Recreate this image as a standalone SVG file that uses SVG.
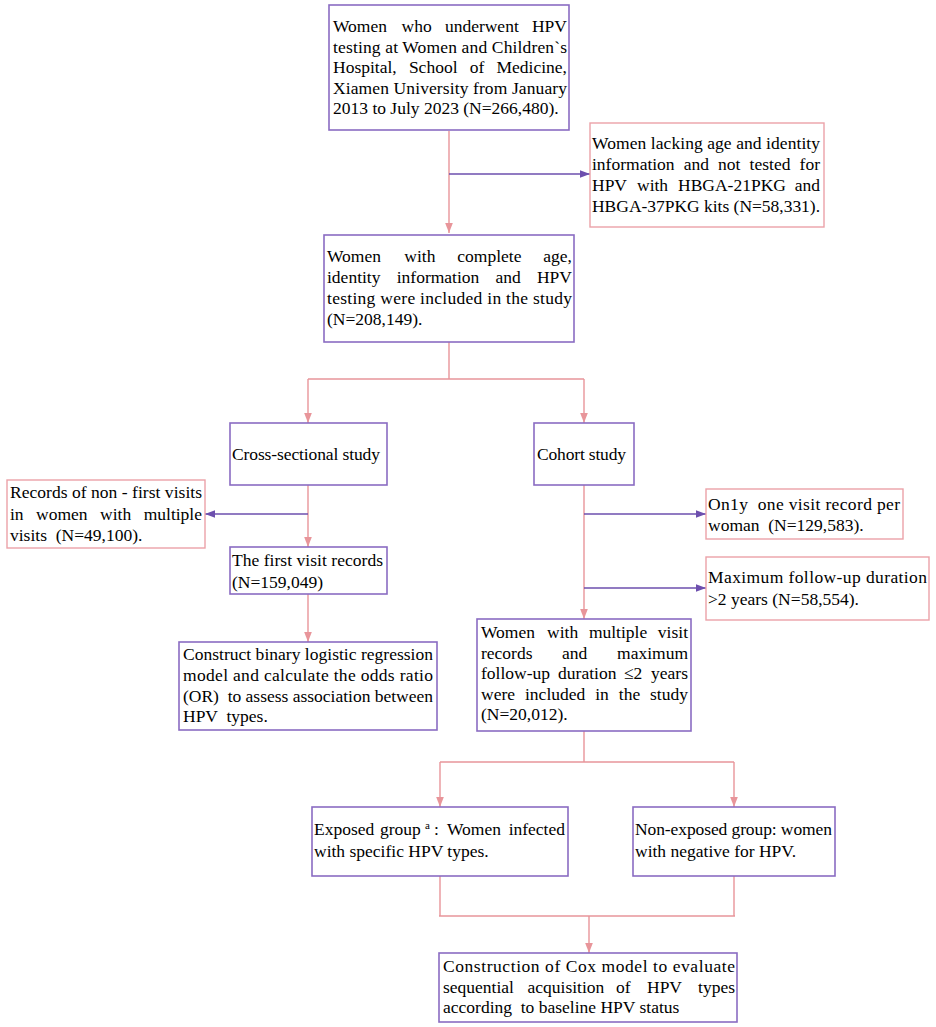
<svg xmlns="http://www.w3.org/2000/svg" width="936" height="1027" viewBox="0 0 936 1027">
<style>
.t{font-family:"Liberation Serif","Times New Roman",serif;font-size:17.5px;fill:#000}
.e{text-anchor:end}
.bp{fill:#fff;stroke:#8a6cc2;stroke-width:1.6}
.bk{fill:#fff;stroke:#eba2a8;stroke-width:1.4}
.cp{fill:none;stroke:#e8959a;stroke-width:1.4}
.cv{fill:none;stroke:#6d4fae;stroke-width:1.4}
</style>
<defs>
<marker id="ap" markerUnits="userSpaceOnUse" markerWidth="10" markerHeight="10" viewBox="0 0 10 10" refX="10" refY="5" orient="auto"><path d="M0,1.2 L10,5 L0,8.8 Z" fill="#e8959a"/></marker>
<marker id="av" markerUnits="userSpaceOnUse" markerWidth="10" markerHeight="10" viewBox="0 0 10 10" refX="10" refY="5" orient="auto"><path d="M0,1.2 L10,5 L0,8.8 Z" fill="#6d4fae"/></marker>
</defs>
<rect width="936" height="1027" fill="#fff"/>
<g id="connectors">
<path class="cp" d="M449,131 V233" marker-end="url(#ap)"/>
<path class="cv" d="M449,174 H590" marker-end="url(#av)"/>
<path class="cp" d="M449,342 V379 M308,379 H584"/>
<path class="cp" d="M308,379 V423" marker-end="url(#ap)"/>
<path class="cp" d="M584,379 V423" marker-end="url(#ap)"/>
<path class="cp" d="M308,485 V547" marker-end="url(#ap)"/>
<path class="cv" d="M308,514 H205" marker-end="url(#av)"/>
<path class="cp" d="M308,594 V642" marker-end="url(#ap)"/>
<path class="cp" d="M584,485 V619" marker-end="url(#ap)"/>
<path class="cv" d="M584,514 H706" marker-end="url(#av)"/>
<path class="cv" d="M584,588 H706" marker-end="url(#av)"/>
<path class="cp" d="M584,731 V762 M440,762 H734"/>
<path class="cp" d="M440,762 V807" marker-end="url(#ap)"/>
<path class="cp" d="M734,762 V807" marker-end="url(#ap)"/>
<path class="cp" d="M440,876 V916 M734,876 V916 M439,916 H735"/>
<path class="cp" d="M589,916 V953" marker-end="url(#ap)"/>
</g>
<g id="n1">
<rect class="bp" x="329" y="5" width="240" height="125"/>
<text class="t" y="32"><tspan x="333">Women</tspan><tspan x="401.6">who</tspan><tspan x="444.9">underwent</tspan></text>
<text class="t e" x="567" y="32">HPV</text>
<text class="t" x="333" y="52.5" textLength="234" lengthAdjust="spacing">testing at Women and Children`s</text>
<text class="t" y="73"><tspan x="333">Hospital,</tspan><tspan x="408.9">School</tspan><tspan x="469.7">of</tspan></text>
<text class="t e" x="567" y="73">Medicine,</text>
<text class="t" x="333" y="93.5" textLength="234" lengthAdjust="spacing">Xiamen University from January</text>
<text class="t" x="333" y="114">2013 to July 2023 (N=266,480).</text>
</g>
<g id="n2">
<rect class="bk" x="590" y="123" width="234" height="104"/>
<text class="t" x="592" y="149" textLength="228" lengthAdjust="spacing">Women lacking age and identity</text>
<text class="t" y="170"><tspan x="592">information</tspan><tspan x="683.7">and</tspan><tspan x="718.1">not</tspan><tspan x="749.6">tested</tspan></text>
<text class="t e" x="820" y="170">for</text>
<text class="t" y="191"><tspan x="592">HPV</tspan><tspan x="637">with</tspan><tspan x="678">HBGA-21PKG</tspan></text>
<text class="t e" x="820" y="191">and</text>
<text class="t" x="592" y="212" textLength="228" lengthAdjust="spacing">HBGA-37PKG kits (N=58,331).</text>
</g>
<g id="n3">
<rect class="bp" x="324" y="235" width="250" height="107"/>
<text class="t" y="262"><tspan x="327">Women</tspan><tspan x="404.3">with</tspan><tspan x="457.3">complete</tspan></text>
<text class="t e" x="572" y="262">age,</text>
<text class="t" y="283"><tspan x="327">identity</tspan><tspan x="396.7">information</tspan><tspan x="495.5">and</tspan></text>
<text class="t e" x="572" y="283">HPV</text>
<text class="t" x="327" y="304" textLength="245" lengthAdjust="spacing">testing were included in the study</text>
<text class="t" x="327" y="325">(N=208,149).</text>
</g>
<g id="n4">
<rect class="bp" x="230" y="423" width="157" height="62"/>
<text class="t" x="232" y="460" textLength="148" lengthAdjust="spacing">Cross-sectional study</text>
</g>
<g id="n5">
<rect class="bp" x="534" y="423" width="100" height="62"/>
<text class="t" x="537" y="460" textLength="89" lengthAdjust="spacing">Cohort study</text>
</g>
<g id="n6">
<rect class="bk" x="7" y="480" width="198" height="68"/>
<text class="t" x="10" y="498" textLength="192" lengthAdjust="spacing">Records of non - first visits</text>
<text class="t" y="520"><tspan x="10">in</tspan><tspan x="36.1">women</tspan><tspan x="100.1">with</tspan></text>
<text class="t e" x="202" y="520">multiple</text>
<text class="t" x="10" y="541" xml:space="preserve">visits  (N=49,100).</text>
</g>
<g id="n7">
<rect class="bp" x="230" y="547" width="157" height="47"/>
<text class="t" x="232" y="566" textLength="151" lengthAdjust="spacing">The first visit records</text>
<text class="t" x="232" y="588">(N=159,049)</text>
</g>
<g id="n8">
<rect class="bp" x="179" y="642" width="258" height="88"/>
<text class="t" x="183" y="660" textLength="250" lengthAdjust="spacing">Construct binary logistic regression</text>
<text class="t" x="183" y="681" textLength="250" lengthAdjust="spacing">model and calculate the odds ratio</text>
<text class="t" x="183" y="701.5" textLength="250" lengthAdjust="spacing" xml:space="preserve">(OR)  to assess association between</text>
<text class="t" x="183" y="722" xml:space="preserve">HPV  types.</text>
</g>
<g id="n9">
<rect class="bk" x="706" y="489" width="197" height="50"/>
<text class="t" x="708" y="510" textLength="192" lengthAdjust="spacing" xml:space="preserve">On1y  one visit record per</text>
<text class="t" x="708" y="531" xml:space="preserve">woman  (N=129,583).</text>
</g>
<g id="n10">
<rect class="bk" x="706" y="557" width="223" height="63"/>
<text class="t" x="708" y="583" textLength="219" lengthAdjust="spacing">Maximum follow-up duration</text>
<text class="t" x="708" y="605">&gt;2 years (N=58,554).</text>
</g>
<g id="n11">
<rect class="bp" x="477" y="619" width="214" height="112"/>
<text class="t" y="638"><tspan x="481">Women</tspan><tspan x="547.1">with</tspan><tspan x="588.9">multiple</tspan></text>
<text class="t e" x="688" y="638">visit</text>
<text class="t" y="658.5"><tspan x="481">records</tspan><tspan x="562.1">and</tspan></text>
<text class="t e" x="688" y="658.5">maximum</text>
<text class="t" y="679"><tspan x="481">follow-up</tspan><tspan x="558.1">duration</tspan><tspan x="624">≤2</tspan></text>
<text class="t e" x="688" y="679">years</text>
<text class="t" y="699.5"><tspan x="481">were</tspan><tspan x="525">included</tspan><tspan x="595.2">in</tspan><tspan x="618.8">the</tspan></text>
<text class="t e" x="688" y="699.5">study</text>
<text class="t" x="481" y="720">(N=20,012).</text>
</g>
<g id="n12">
<rect class="bp" x="312" y="807" width="256" height="69"/>
<text class="t" y="835"><tspan x="314">Exposed</tspan><tspan x="380">group</tspan><tspan x="425" dy="-6" font-size="11">a</tspan><tspan x="434" dy="6">:</tspan><tspan x="447">Women</tspan></text>
<text class="t e" x="565" y="835">infected</text>
<text class="t" x="314" y="857">with specific HPV types.</text>
</g>
<g id="n13">
<rect class="bp" x="633" y="807" width="202" height="69"/>
<text class="t" x="635" y="835" textLength="197" lengthAdjust="spacing">Non-exposed group: women</text>
<text class="t" x="635" y="857">with negative for HPV.</text>
</g>
<g id="n14">
<rect class="bp" x="439" y="953" width="298" height="69"/>
<text class="t" x="443" y="972" textLength="292" lengthAdjust="spacing">Construction of Cox model to evaluate</text>
<text class="t" y="992.5"><tspan x="443">sequential</tspan><tspan x="527.5">acquisition</tspan><tspan x="616">of</tspan><tspan x="647">HPV</tspan></text>
<text class="t e" x="735" y="992.5">types</text>
<text class="t" x="443" y="1013" xml:space="preserve">according  to baseline HPV status</text>
</g>
</svg>
